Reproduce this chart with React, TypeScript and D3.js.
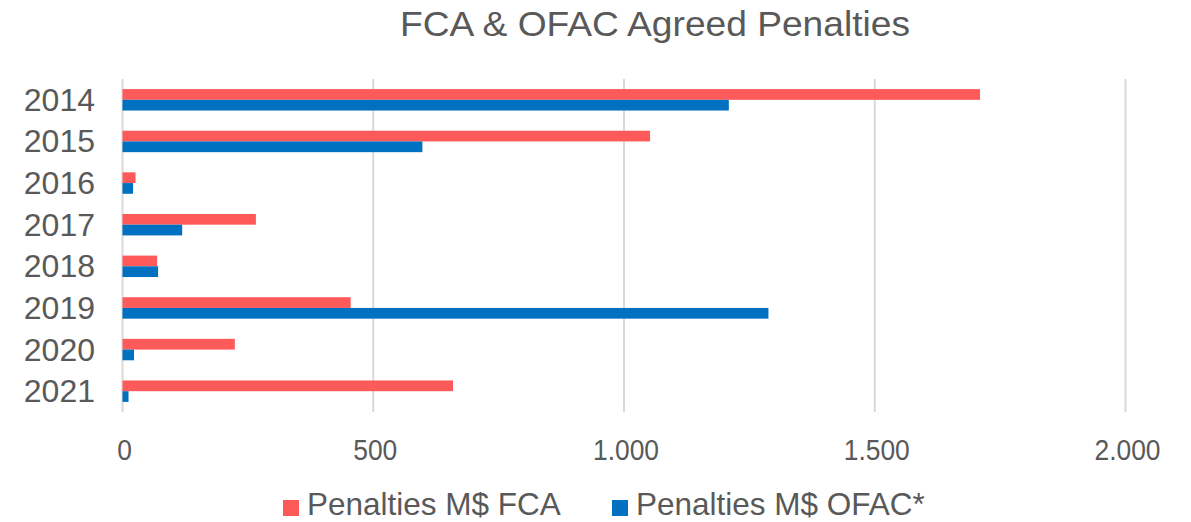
import React from "react";
import * as d3 from "d3";

const years = ["2014", "2015", "2016", "2017", "2018", "2019", "2020", "2021"];
const fcaValues = [1710, 1052, 26, 266, 69, 455, 224, 659];
const ofacValues = [1209, 598, 21, 119, 71, 1288, 23, 12];
const xTicks = [0, 500, 1000, 1500, 2000];
const seriesNames = ["Penalties M$ FCA", "Penalties M$ OFAC*"];
const seriesColors = ["#FF5A5A", "#0070C0"];

const W = 1191;
const H = 522;
const FONT = "'Liberation Sans', Arial, sans-serif";
const TEXT = "#595959";

const fmt = (v: number) => d3.format(",")(v).replace(/,/g, ".");

export default function App() {
  const x = d3.scaleLinear().domain([0, 2000]).range([122.5, 1125.5]);
  const y = d3
    .scaleBand<string>()
    .domain(years)
    .range([79, 412])
    .paddingInner(0.485)
    .paddingOuter(0.2425);
  const sub = d3
    .scaleBand<number>()
    .domain([0, 1])
    .range([0, y.bandwidth()]);
  const series = [fcaValues, ofacValues];

  return (
    <svg
      width={W}
      height={H}
      style={{ position: "absolute", left: 0, top: 0, background: "#fff" }}
      fontFamily={FONT}
    >
      <rect width={W} height={H} fill="#fff" />
      <text
        x={655}
        y={36}
        textAnchor="middle"
        fontSize={35}
        fill={TEXT}
        textLength={510}
        lengthAdjust="spacingAndGlyphs"
      >
        FCA &amp; OFAC Agreed Penalties
      </text>

      {xTicks.map((t) => (
        <line
          key={"g" + t}
          x1={x(t)}
          x2={x(t)}
          y1={79}
          y2={412}
          stroke="#D9D9D9"
          strokeWidth={2}
        />
      ))}

      {years.map((yr, i) => (
        <g key={yr} transform={`translate(0,${y(yr)})`}>
          {series.map((vals, s) => (
            <rect
              key={s}
              x={x(0)}
              y={sub(s)}
              width={x(vals[i]) - x(0)}
              height={sub.bandwidth()}
              fill={seriesColors[s]}
            />
          ))}
          <text
            x={95}
            y={y.bandwidth() / 2 + 11}
            textAnchor="end"
            fontSize={32}
            fill={TEXT}
          >
            {yr}
          </text>
        </g>
      ))}

      {xTicks.map((t) => (
        <text
          key={"t" + t}
          transform={`translate(${x(t) + 2},460) scale(0.88,1)`}
          textAnchor="middle"
          fontSize={30}
          fill={TEXT}
        >
          {fmt(t)}
        </text>
      ))}

      {seriesNames.map((name, s) => {
        const lx = s === 0 ? 283 : 612;
        return (
          <g key={name}>
            <rect x={lx} y={500} width={16} height={16} fill={seriesColors[s]} />
            <text x={lx + 24} y={515} fontSize={31.5} fill={TEXT}>
              {name}
            </text>
          </g>
        );
      })}
    </svg>
  );
}
